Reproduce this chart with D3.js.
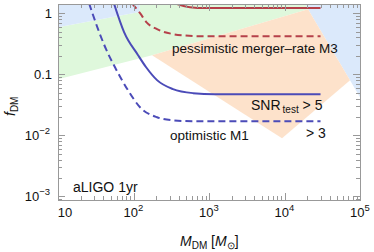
<!DOCTYPE html>
<html>
<head>
<meta charset="utf-8">
<script src="https://cdn.jsdelivr.net/npm/d3@7"></script>
<style>
  body { margin: 0; background: #fff; }
  text { font-family: "Liberation Sans", Arial, sans-serif; fill: #111; }
</style>
</head>
<body>
<div id="chart"></div>
<script>
// curves (mass in solar masses, f_DM)
var solidBlueM = [55, 75, 115, 147, 205, 333, 614, 1200, 30000];
var solidBlueF = [1.45, 0.49, 0.205, 0.13, 0.08, 0.057, 0.049, 0.047, 0.047];

var dashBlueM = [25.8, 33.9, 43.3, 58.6, 84.5, 122, 205, 333, 614, 30000];
var dashBlueF = [1.45, 0.547, 0.257, 0.121, 0.0547, 0.0288, 0.0197, 0.0176, 0.017, 0.017];

var dashRedM = [95.5, 122, 150, 205, 330, 480, 760, 30000];
var dashRedF = [1.45, 1.0, 0.7, 0.547, 0.455, 0.43, 0.42, 0.42];

var solidRedM = [350, 560, 885, 30000];
var solidRedF = [1.45, 1.25, 1.21, 1.21];

// shaded regions, [mass, f] corners
var blueLeftRegion = [[10, 1.45], [120, 1.45], [120, 1.04], [10, 0.589]];
var greenRegion = [[10, 0.589], [10, 0.0828], [176, 0.205], [20500, 1.16], [18700, 1.45], [120, 1.45], [120, 1.04]];
var peachRegion = [[176, 0.205], [20500, 1.16], [73800, 0.0797], [9270, 0.00893]];
var blueRightRegion = [[18700, 1.45], [100000, 1.45], [100000, 0.042], [73800, 0.0797], [20500, 1.16]];

var xTickValues = [10, 100, 1000, 10000, 100000];
var xTickExp = ["", "2", "3", "4", "5"];
var yTickValues = [1, 0.1, 0.01, 0.001];
var yTickLabels = ["1", "0.1", "10", "10"];
var yTickExp = ["", "", "\u22122", "\u22123"];

var width = 374, height = 252;
var margin = {top: 4, right: 14, bottom: 52, left: 58};
var w = width - margin.left - margin.right;
var h = height - margin.top - margin.bottom;

var x = d3.scaleLog().domain([10, 1e5]).range([0, w]);
var y = d3.scaleLog().domain([Math.pow(10, -3.06), Math.pow(10, 0.15)]).range([h, 0]);

var svg = d3.select("#chart").append("svg")
    .attr("width", width)
    .attr("height", height);

svg.append("clipPath").attr("id", "clip")
  .append("rect").attr("width", w).attr("height", h);

var g = svg.append("g")
    .attr("transform", "translate(" + margin.left + "," + margin.top + ")");

var regions = g.append("g").attr("clip-path", "url(#clip)");

function poly(pts) {
  return "M" + pts.map(function(p) { return x(p[0]) + "," + y(p[1]); }).join("L") + "Z";
}

regions.append("path").attr("d", poly(greenRegion)).attr("fill", "#dff8dc");
regions.append("path").attr("d", poly(blueLeftRegion)).attr("fill", "#dbe9fb");
regions.append("path").attr("d", poly(blueRightRegion)).attr("fill", "#dbe9fb");
regions.append("path").attr("d", poly(peachRegion)).attr("fill", "#fde2cb");

var line = d3.line()
    .x(function(d) { return x(d[0]); })
    .y(function(d) { return y(d[1]); })
    .curve(d3.curveMonotoneX);

function zip(a, b) { return a.map(function(v, i) { return [v, b[i]]; }); }

var curves = [
  {m: solidRedM, f: solidRedF, color: "#b5404a", dash: null},
  {m: dashRedM, f: dashRedF, color: "#b5404a", dash: "7,4"},
  {m: solidBlueM, f: solidBlueF, color: "#4b4bb8", dash: null},
  {m: dashBlueM, f: dashBlueF, color: "#4b4bb8", dash: "7,4"}
];

var lines = g.append("g").attr("clip-path", "url(#clip)");
curves.forEach(function(c) {
  lines.append("path")
    .datum(zip(c.m, c.f))
    .attr("d", line)
    .attr("fill", "none")
    .attr("stroke", c.color)
    .attr("stroke-width", 2)
    .attr("stroke-dasharray", c.dash);
});

// ticks: majors and minors, drawn inward on all four sides
function logTicks(lo, hi) {
  var out = [];
  for (var e = -4; e <= 5; e++) {
    for (var k = 1; k <= 9; k++) {
      var v = k * Math.pow(10, e);
      if (v >= lo * 0.999 && v <= hi * 1.001) out.push({v: v, major: k === 1});
    }
  }
  return out;
}
var xt = logTicks(10, 1e5);
var yt = logTicks(y.domain()[0], y.domain()[1]);

var tickColor = "#999";
var ticks = g.append("g").attr("stroke", tickColor).attr("stroke-width", 1);
xt.forEach(function(t) {
  var px = Math.round(x(t.v)) + 0.5, len = t.major ? 7 : 4;
  ticks.append("line").attr("x1", px).attr("x2", px).attr("y1", h).attr("y2", h - len);
  ticks.append("line").attr("x1", px).attr("x2", px).attr("y1", 0).attr("y2", len);
});
yt.forEach(function(t) {
  var py = Math.round(y(t.v)) + 0.5, len = t.major ? 7 : 4;
  ticks.append("line").attr("x1", 0).attr("x2", len).attr("y1", py).attr("y2", py);
  ticks.append("line").attr("x1", w).attr("x2", w - len).attr("y1", py).attr("y2", py);
});

g.append("rect")
  .attr("x", 0.5).attr("y", 0.5)
  .attr("width", w).attr("height", h)
  .attr("fill", "none").attr("stroke", tickColor);

// tick labels
var xl = g.append("g").style("font-size", "13px");
xTickValues.forEach(function(v, i) {
  var t = xl.append("text")
    .attr("x", i === 0 ? x(v) + 7 : x(v))
    .attr("y", h + 17)
    .attr("text-anchor", "middle")
    .text("10");
  if (xTickExp[i]) {
    t.append("tspan").attr("dy", -6).style("font-size", "9.5px").text(xTickExp[i]);
  }
});

var yl = g.append("g").style("font-size", "13px");
yTickValues.forEach(function(v, i) {
  var t = yl.append("text")
    .attr("x", -6)
    .attr("y", y(v) + 4.5)
    .attr("text-anchor", "end")
    .text(yTickLabels[i]);
  if (yTickExp[i]) {
    t.attr("x", -8);
    t.append("tspan").attr("dy", -6).style("font-size", "9.5px").text(yTickExp[i]);
  }
});

// axis titles
var xTitle = svg.append("text")
  .attr("x", 180).attr("y", 246)
  .style("font-size", "14px");
xTitle.append("tspan").style("font-style", "italic").text("M");
xTitle.append("tspan").attr("dy", 3).style("font-size", "10px").text("DM");
xTitle.append("tspan").attr("dy", -3).text(" [");
xTitle.append("tspan").style("font-style", "italic").text("M");
xTitle.append("tspan").attr("dy", 3).style("font-size", "10px").text("\u2299");
xTitle.append("tspan").attr("dy", -3).text("]");

var yTitle = svg.append("text")
  .attr("transform", "translate(15,116) rotate(-90)")
  .style("font-size", "14px");
yTitle.append("tspan").style("font-style", "italic").text("f");
yTitle.append("tspan").attr("dy", 3).style("font-size", "10px").text("DM");

// annotations
svg.append("text").attr("x", 172).attr("y", 53).style("font-size", "13.5px")
  .text("pessimistic merger\u2013rate M3");

var snr = svg.append("text").attr("x", 251).attr("y", 110).style("font-size", "14px");
snr.append("tspan").text("SNR");
snr.append("tspan").attr("dy", 3).attr("dx", 2).style("font-size", "10px").text("test");
snr.append("tspan").attr("dy", -3).text(" > 5");

svg.append("text").attr("x", 170).attr("y", 140).style("font-size", "13.5px")
  .text("optimistic M1");
svg.append("text").attr("x", 306).attr("y", 138).style("font-size", "14px")
  .text("> 3");
svg.append("text").attr("x", 73).attr("y", 192).style("font-size", "14px")
  .text("aLIGO 1yr");
</script>
</body>
</html>
